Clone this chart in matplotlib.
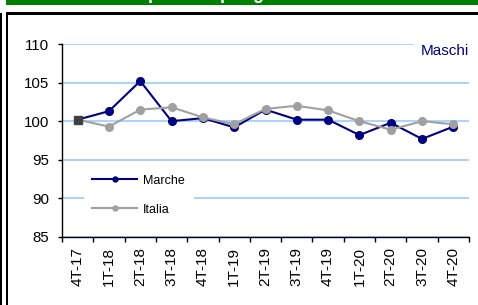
import matplotlib
matplotlib.use('Agg')
import matplotlib.pyplot as plt
from matplotlib.patches import Rectangle
from matplotlib.transforms import blended_transform_factory

plt.rcParams['font.family'] = ['Liberation Sans', 'DejaVu Sans']

# Data
quarters = ['4T-17', '1T-18', '2T-18', '3T-18', '4T-18', '1T-19', '2T-19',
            '3T-19', '4T-19', '1T-20', '2T-20', '3T-20', '4T-20']
marche = [100.2, 101.3, 105.2, 100.0, 100.4, 99.2, 101.5,
          100.2, 100.2, 98.2, 99.8, 97.7, 99.3]
italia = [100.2, 99.3, 101.5, 101.8, 100.5, 99.6, 101.6,
          102.0, 101.4, 100.0, 98.9, 100.0, 99.6]
yticks = [85, 90, 95, 100, 105, 110]

W, H = 478, 305
fig = plt.figure(figsize=(W / 100, H / 100), dpi=100)


def px_rect(x0, y0, w, h, color):
    # rectangle given in pixels from the top-left corner
    r = Rectangle((x0 / W, 1 - (y0 + h) / H), w / W, h / H,
                  transform=fig.transFigure, facecolor=color,
                  edgecolor='none', zorder=10)
    fig.patches.append(r)


# frame decorations (green header, borders)
px_rect(6, 0, W - 6, 4.7, '#008000')
fig.text(103 / W, 1 + 1.2 / H, 'Occupazione per genere', color='white',
         fontsize=13, fontweight='bold', ha='left', va='baseline', zorder=11)
px_rect(6, 11.5, W - 6, 1, '#c8c8c8')
px_rect(6, 12.5, W - 6, 2, 'black')
px_rect(6, 12.5, 2, H - 12.5, 'black')
px_rect(0, 12.5, 1.5, H - 12.5, 'black')

ax = fig.add_axes([62 / W, 68 / H, (469 - 62) / W, (237 - 44) / H])
x = list(range(len(quarters)))

ax.plot(x, marche, color='#000080', lw=1.5, marker='o', ms=5.5,
        label='Marche', zorder=3)
ax.plot(x, italia, color='#a0a0a0', lw=1.5, marker='o', ms=5.5,
        label='Italia', zorder=4)
ax.plot(x[0], marche[0], marker='s', ms=5.5, color='#404040', zorder=5)

ax.set_xlim(-0.5, len(quarters) - 0.5)
ax.set_ylim(85, 110)
ax.set_yticks(yticks)
ax.set_yticklabels([str(v) for v in yticks])
ax.yaxis.grid(True, color='#99ccff', lw=1.2, zorder=0)
ax.set_axisbelow(True)

ax.set_xticks([i - 0.5 for i in range(len(quarters) + 1)])
ax.set_xticklabels([])
ax.set_xticks(x, minor=True)
ax.set_xticklabels(quarters, minor=True, rotation=90)
ax.tick_params(axis='x', which='major', length=3.5, width=1, direction='out')
ax.tick_params(axis='x', which='minor', length=0, pad=7, labelsize=11)
ax.tick_params(axis='y', length=3, width=1, pad=6.5, labelsize=10.8)

for s in ['top', 'right']:
    ax.spines[s].set_visible(False)
for s in ['left', 'bottom']:
    ax.spines[s].set_linewidth(1)
    ax.spines[s].set_color('black')

tr = blended_transform_factory(ax.transAxes, ax.transData)
ax.text(1.0, 109.1, 'Maschi', transform=tr, ha='right', va='center',
        color='#000080', fontsize=11,
        bbox=dict(boxstyle='square,pad=0.45', facecolor='white', edgecolor='none'),
        zorder=6)

leg = ax.legend(loc='upper left', bbox_to_anchor=(0.053, 0.368),
                borderaxespad=0, borderpad=0.7, fontsize=9, handlelength=3.6,
                handletextpad=0.48, labelspacing=1.36, markerscale=0.65,
                frameon=True, fancybox=False, facecolor='white',
                edgecolor='none', framealpha=1)
leg.set_zorder(7)

fig.savefig('out.png', dpi=100)
plt.close(fig)
